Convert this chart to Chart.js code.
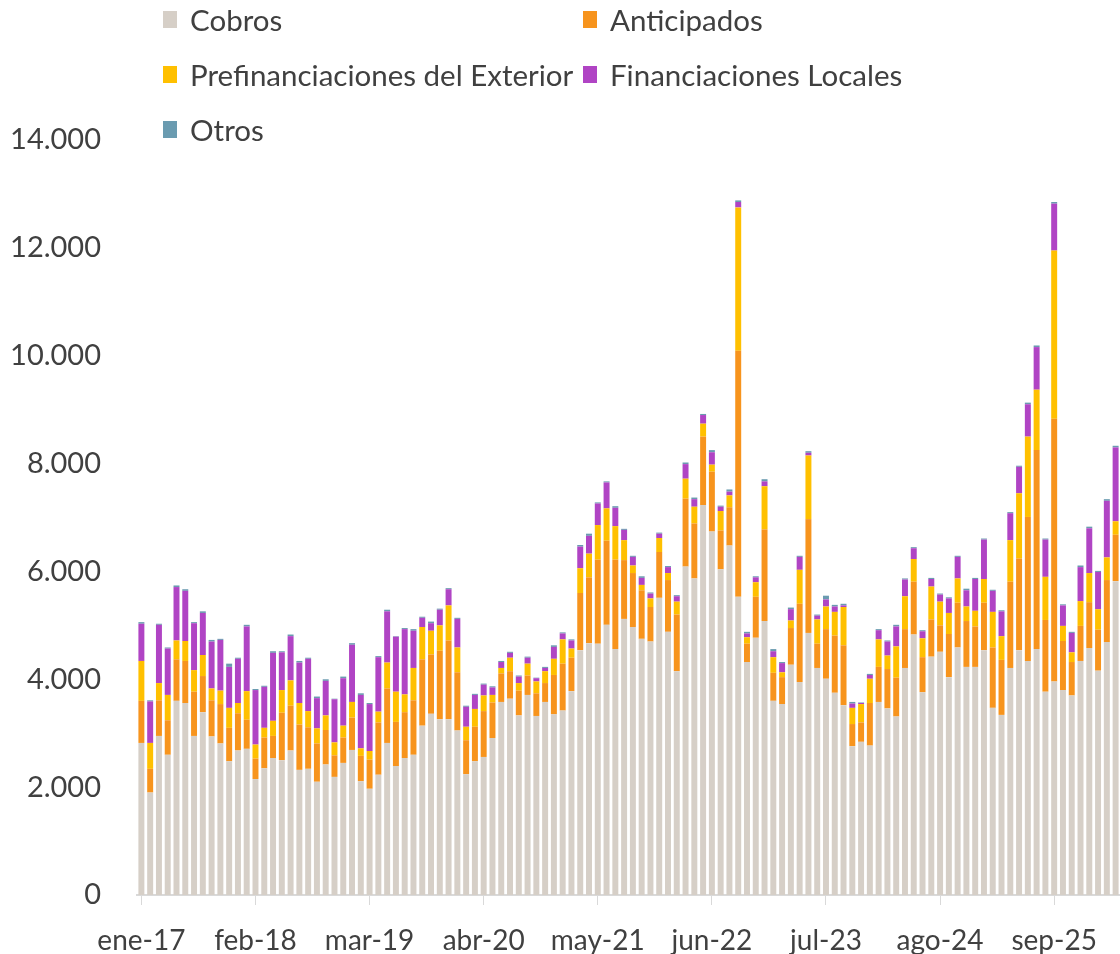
<!DOCTYPE html>
<html>
<head>
<meta charset="utf-8">
<script src="https://cdn.jsdelivr.net/npm/chart.js@4.4.1/dist/chart.umd.min.js"></script>
<style>
  body { margin: 0; background: #fff; }
  #wrap { position: relative; width: 1120px; height: 954px; overflow: hidden; }
  #leyenda { position: absolute; left: 0; top: 0; font-family: Lato, sans-serif; font-size: 29.5px; color: #404040; }
  .item { position: absolute; white-space: nowrap; line-height: 30px; }
  .item span.caja { position: absolute; left: 0; top: 6px; width: 14px; height: 17px; }
  .item span.txt { position: absolute; left: 27px; top: 0; }
</style>
</head>
<body>
<div id="wrap">
  <canvas id="grafico" width="1120" height="954"></canvas>
  <div id="leyenda"></div>
</div>
<script>
const meses = ['ene', 'feb', 'mar', 'abr', 'may', 'jun', 'jul', 'ago', 'sep', 'oct', 'nov', 'dic'];
const anios = ['17', '18', '19', '20', '21', '22', '23', '24', '25', '26'];
const cantidadMeses = 112;

const cobros = [2820, 1900, 2950, 2600, 3600, 3560, 2950, 3390, 2940, 2810, 2480, 2680, 2710, 2150, 2350, 2540,
  2500, 2680, 2320, 2340, 2100, 2420, 2190, 2450, 2690, 2110, 1970, 2230, 2820, 2390, 2540, 2600, 3140, 3360,
  3260, 3260, 3050, 2240, 2480, 2560, 2910, 3580, 3640, 3330, 3710, 3320, 3580, 3350, 3420, 3780, 4540, 4670,
  4660, 5010, 4560, 5120, 4970, 4750, 4700, 5510, 4880, 4150, 6090, 5870, 7230, 6740, 6040, 6480, 5530, 4320,
  4770, 5080, 3600, 3540, 4270, 3950, 4860, 4210, 4010, 3750, 3520, 2760, 2840, 2770, 3580, 3460, 3310, 4210,
  4830, 3760, 4420, 4510, 4040, 4590, 4230, 4230, 4540, 3470, 3340, 4210, 4540, 4340, 4560, 3770, 3960, 3800,
  3700, 4340, 4580, 4160, 4690, 5820];
const anticipados = [780, 440, 660, 640, 770, 780, 820, 670, 670, 730, 620, 690, 540, 380, 570, 410, 880, 830,
  840, 770, 710, 640, 400, 470, 600, 470, 540, 970, 1010, 820, 850, 1010, 1230, 1100, 1270, 1460, 1080, 630,
  640, 850, 660, 530, 510, 460, 360, 420, 350, 730, 870, 620, 1060, 1220, 1560, 1560, 1660, 1090, 1000, 900,
  640, 850, 960, 1050, 1260, 1020, 1270, 1110, 720, 710, 4560, 340, 760, 1700, 520, 500, 680, 1450, 2110, 450,
  920, 1060, 1110, 410, 360, 790, 650, 730, 720, 720, 980, 650, 690, 490, 800, 830, 850, 750, 880, 1120, 1020,
  1600, 1700, 2670, 3690, 1330, 4870, 910, 620, 650, 850, 760, 1150, 860];
const prefinanciaciones = [740, 480, 320, 470, 350, 370, 400, 390, 220, 250, 370, 190, 530, 260, 180, 280, 420,
  470, 400, 300, 280, 270, 240, 220, 290, 140, 160, 200, 480, 560, 330, 600, 600, 440, 470, 650, 460, 250, 330,
  290, 140, 100, 250, 140, 220, 220, 220, 300, 450, 170, 460, 440, 640, 600, 620, 370, 140, 100, 160, 260, 130,
  240, 370, 310, 240, 130, 360, 220, 2660, 120, 270, 800, 290, 90, 140, 630, 1180, 450, 420, 440, 710, 300,
  340, 450, 510, 250, 580, 610, 420, 350, 610, 440, 390, 450, 270, 290, 440, 660, 440, 770, 1210, 1490, 1120,
  800, 3120, 280, 180, 460, 540, 380, 420, 250];
const financiacionesLocales = [690, 770, 1080, 860, 990, 930, 870, 780, 870, 940, 760, 820, 1200, 1010, 760,
  1260, 700, 820, 750, 970, 560, 640, 800, 880, 1060, 990, 870, 1010, 950, 1020, 1210, 690, 170, 140, 290, 300,
  530, 370, 260, 200, 140, 110, 90, 120, 110, 60, 60, 220, 110, 150, 400, 330, 400, 480, 340, 190, 160, 130, 90,
  80, 110, 100, 270, 140, 160, 230, 80, 70, 100, 70, 90, 90, 110, 170, 210, 240, 50, 70, 130, 100, 30, 80, 20,
  70, 170, 260, 370, 310, 200, 130, 140, 130, 270, 400, 300, 590, 730, 390, 460, 500, 490, 600, 790, 690, 870,
  380, 360, 630, 830, 690, 1050, 1370];
const otros = [30, 20, 20, 20, 30, 30, 20, 30, 30, 20, 60, 20, 30, 20, 20, 30, 20, 30, 30, 20, 30, 30, 10, 30,
  30, 30, 20, 20, 30, 10, 20, 30, 20, 30, 20, 20, 20, 20, 20, 20, 20, 20, 20, 20, 20, 10, 20, 30, 20, 20, 30,
  40, 20, 20, 30, 20, 20, 30, 20, 20, 20, 20, 30, 30, 20, 40, 20, 40, 30, 30, 20, 40, 40, 20, 30, 20, 30, 20,
  70, 30, 30, 30, 10, 20, 20, 20, 30, 20, 20, 20, 20, 20, 20, 20, 30, 20, 20, 20, 20, 20, 20, 30, 30, 20, 30,
  20, 20, 30, 30, 20, 30, 30];

const etiquetas = [];
for (let i = 0; i < cantidadMeses; i++) {
    etiquetas.push(meses[i % 12] + '-' + anios[Math.floor(i / 12)]);
}

const series = [
    { nombre: 'Cobros', datos: cobros, color: '#D6CFC7' },
    { nombre: 'Anticipados', datos: anticipados, color: '#F7941D' },
    { nombre: 'Prefinanciaciones del Exterior', datos: prefinanciaciones, color: '#FFC000' },
    { nombre: 'Financiaciones Locales', datos: financiacionesLocales, color: '#B044C4' },
    { nombre: 'Otros', datos: otros, color: '#6A9BB0' }
];

// leyenda en dos columnas, como el original
const posLeyenda = [[163, 5], [583, 5], [163, 60], [583, 60], [163, 115]];
const leyenda = document.getElementById('leyenda');
series.forEach((s, i) => {
    const d = document.createElement('div');
    d.className = 'item';
    d.style.left = posLeyenda[i][0] + 'px';
    d.style.top = posLeyenda[i][1] + 'px';
    d.innerHTML = '<span class="caja" style="background:' + s.color + '"></span><span class="txt">' + s.nombre + '</span>';
    leyenda.appendChild(d);
});

const fuenteX = { family: 'Lato, sans-serif', size: 28 };
const fuenteY = { family: 'Lato, sans-serif', size: 29 };

new Chart(document.getElementById('grafico').getContext('2d'), {
    type: 'bar',
    data: {
        labels: etiquetas,
        datasets: series.map(s => ({
            label: s.nombre,
            data: s.datos,
            backgroundColor: s.color,
            borderWidth: 0,
            categoryPercentage: 1,
            barPercentage: 0.68
        }))
    },
    options: {
        responsive: false,
        animation: false,
        layout: { padding: { top: 140, right: 0, bottom: 0, left: 0 } },
        plugins: { legend: { display: false }, tooltip: { enabled: false } },
        scales: {
            x: {
                stacked: true,
                offset: true,
                afterFit: scale => { scale.height = 59; },
                grid: { drawOnChartArea: false, drawTicks: true, tickLength: 10, color: '#D9D9D9', offset: false },
                border: { display: true, color: '#D9D9D9', width: 2 },
                ticks: {
                    autoSkip: false,
                    maxRotation: 0,
                    padding: 19,
                    color: '#404040',
                    font: fuenteX,
                    callback: function(valor, i) { return i % 13 === 0 ? this.getLabelForValue(valor) : null; }
                }
            },
            y: {
                stacked: true,
                min: 0,
                max: 14000,
                afterFit: scale => { scale.width = 137; },
                grid: { display: false, drawTicks: false },
                border: { display: false },
                ticks: {
                    stepSize: 2000,
                    padding: 36,
                    color: '#404040',
                    font: fuenteY,
                    callback: v => v.toLocaleString('de-DE')
                }
            }
        }
    }
});
</script>
</body>
</html>
